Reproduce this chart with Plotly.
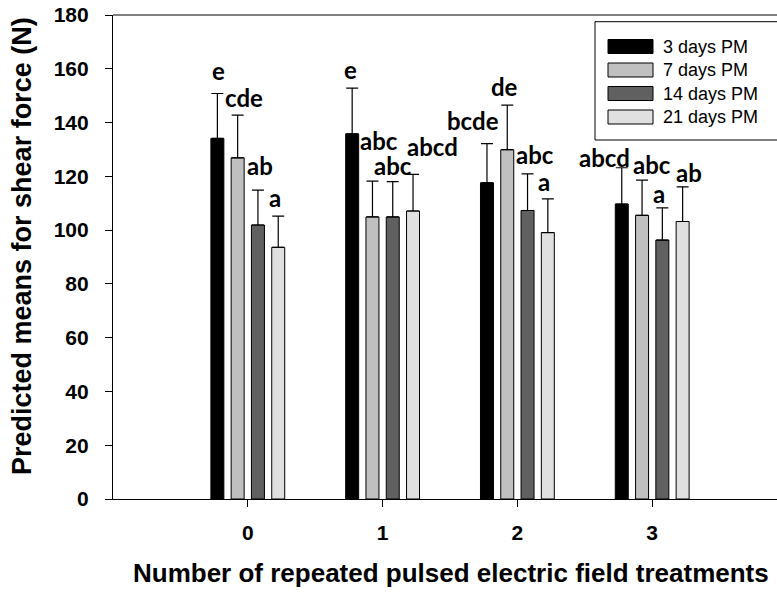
import plotly.graph_objects as go

# ---- data ----
treatments = [0, 1, 2, 3]
tick_labels = ["0", "1", "2", "3"]
series_names = ["3 days PM", "7 days PM", "14 days PM", "21 days PM"]
mean_3d = [134.1, 135.8, 117.6, 109.7]
mean_7d = [126.9, 104.9, 129.9, 105.5]
mean_14d = [101.9, 104.9, 107.3, 96.3]
mean_21d = [93.6, 107.1, 99.1, 103.2]
err_3d = [16.7, 17.0, 14.6, 13.5]
err_7d = [15.9, 13.3, 16.6, 13.1]
err_14d = [13.0, 13.1, 13.6, 12.0]
err_21d = [11.6, 13.6, 12.5, 12.9]
letters_3d = ["e", "e", "bcde", "abcd"]
letters_7d = ["cde", "abc", "de", "abc"]
letters_14d = ["ab", "abc", "abc", "a"]
letters_21d = ["a", "abcd", "a", "ab"]

means = [mean_3d, mean_7d, mean_14d, mean_21d]
errs = [err_3d, err_7d, err_14d, err_21d]
letters = [letters_3d, letters_7d, letters_14d, letters_21d]

# ---- style ----
colors = ["#000000", "#c0c0c0", "#606060", "#e0e0e0"]
# pixel nudges for letter labels (dx right, dy baseline above cap)
lab_dx = [[1.5, -2, -14, -17.5], [6.5, 7, -2.5, 9.5], [2, 0, 7.5, -3.5], [-3.5, 19.5, -4, 6]]
lab_dy = [[13, 8, 13, 0], [7, 30, 8, 5], [14, 6, 9, 4], [8, 17, 7, 4]]

W, H = 777, 593
L, R, T, B = 113, 0, 15, 94
PW, PH = W - L - R, H - T - B
bargap = 0.398
pitch = (1 - bargap) / 4

fig = go.Figure()
for i in range(4):
    fig.add_trace(go.Bar(
        x=treatments, y=means[i], name=series_names[i],
        marker=dict(color=colors[i], line=dict(color="#000000", width=1)),
        error_y=dict(type="data", symmetric=False, array=errs[i],
                     arrayminus=[0] * 4, color="#000000", thickness=1.2, width=6),
        showlegend=False,
    ))

annotations = []
for i in range(4):
    for g in range(4):
        annotations.append(dict(
            x=treatments[g] + (i - 1.5) * pitch, y=means[i][g] + errs[i][g],
            xref="x", yref="y", text="<b>" + letters[i][g] + "</b>", showarrow=False,
            xanchor="center", yanchor="bottom",
            xshift=lab_dx[i][g], yshift=lab_dy[i][g] - 6,
            font=dict(family="Lato", size=24, color="#000000", weight="bold"),
        ))

def px2paper(px, py):
    return (px - L) / PW, (H - B - py) / PH

# axis titles
xt, yt = px2paper(131, 584)
annotations.append(dict(x=xt, y=yt, xref="paper", yref="paper", showarrow=False,
                        xanchor="left", yanchor="bottom", yshift=-6,
                        text="<b>Number of repeated pulsed electric field treatments</b>",
                        font=dict(family="Liberation Sans, Arial", size=26, color="#000000")))
xt, yt = px2paper(22, 246)
annotations.append(dict(x=xt, y=yt, xref="paper", yref="paper", showarrow=False,
                        xanchor="center", yanchor="middle", textangle=-90,
                        text="<b>Predicted means for shear force (N)</b>",
                        font=dict(family="Liberation Sans, Arial", size=27, color="#000000")))

# legend (manual)
shapes = []
x0, y0 = px2paper(595, 21.7)
x1, y1 = px2paper(800, 140)
shapes.append(dict(type="rect", xref="paper", yref="paper", x0=x0, y0=y1, x1=x1, y1=y0,
                   line=dict(color="#000000", width=1), fillcolor="#ffffff"))
for i, cy in enumerate([46.5, 70, 93.5, 117]):
    sx0, sy0 = px2paper(608, cy - 7)
    sx1, sy1 = px2paper(653, cy + 7)
    shapes.append(dict(type="rect", xref="paper", yref="paper", x0=sx0, y0=sy1, x1=sx1, y1=sy0,
                       line=dict(color="#000000", width=1), fillcolor=colors[i]))
    tx, ty = px2paper(661, cy)
    annotations.append(dict(x=tx, y=ty, xref="paper", yref="paper", showarrow=False,
                            xanchor="left", yanchor="middle", text=series_names[i],
                            font=dict(family="Liberation Sans, Arial", size=18, color="#000000")))

# top border line
shapes.append(dict(type="line", xref="paper", yref="paper", x0=0, x1=1.02, y0=1, y1=1,
                   line=dict(color="#000000", width=1.2)))

fig.update_layout(
    width=W, height=H, margin=dict(l=L, r=R, t=T, b=B),
    paper_bgcolor="#ffffff", plot_bgcolor="#ffffff",
    barmode="group", bargap=bargap, bargroupgap=0.36,
    annotations=annotations, shapes=shapes, showlegend=False,
    font=dict(family="Liberation Sans, Arial", color="#000000"),
)
fig.update_xaxes(
    type="linear", range=[-1, -1 + PW / 134.8], tickvals=treatments, ticktext=[f"<b>{t}</b>" for t in tick_labels],
    showline=True, linecolor="#000000", linewidth=1.2, ticks="outside", ticklen=7,
    tickcolor="#000000", showgrid=False, zeroline=False, ticklabelstandoff=8,
    tickfont=dict(size=21, family="Liberation Sans, Arial", color="#000000"),
)
fig.update_yaxes(
    range=[0, 180], tickvals=list(range(0, 181, 20)),
    ticktext=[f"<b>{v}</b>" for v in range(0, 181, 20)],
    showline=True, linecolor="#000000", linewidth=1.2, ticks="outside", ticklen=7,
    tickcolor="#000000", showgrid=False, zeroline=False, ticklabelstandoff=12,
    tickfont=dict(size=21, family="Liberation Sans, Arial", color="#000000"),
)

fig.write_html("out.html")
